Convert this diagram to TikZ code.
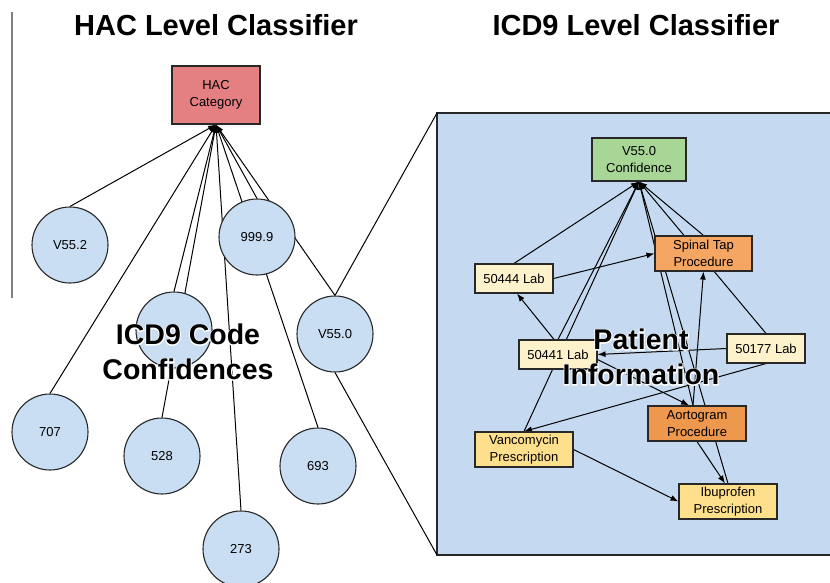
\documentclass[tikz,border=0pt]{standalone}
\usepackage{fontspec}
\setmainfont{Liberation Sans}
\newfontfamily\glowfont[BoldFeatures={FakeBold=7}]{Liberation Sans}
\usetikzlibrary{arrows.meta}
\pgfdeclarelayer{back}
\pgfdeclarelayer{edges}
\pgfdeclarelayer{glow}
\pgfdeclarelayer{front}
\pgfsetlayers{back,edges,main,glow,front}
\definecolor{linec}{RGB}{40,40,40}
\definecolor{circfill}{RGB}{201,222,242}
\definecolor{panelfill}{RGB}{197,218,240}
\definecolor{hacpink}{RGB}{229,128,130}
\definecolor{confgreen}{RGB}{168,214,150}
\definecolor{spinalor}{RGB}{244,166,98}
\definecolor{aortoor}{RGB}{238,152,78}
\definecolor{labpale}{RGB}{254,242,204}
\definecolor{rxyellow}{RGB}{254,224,140}
\definecolor{sidegray}{RGB}{128,128,128}
\begin{document}
\begin{tikzpicture}[x=1pt,y=-1pt,
  circ/.style={circle, draw=linec, line width=1.1pt, fill=circfill, minimum size=76pt, inner sep=0pt, font=\fontsize{13}{15}\selectfont},
  box/.style={rectangle, draw=linec, line width=1.1pt, align=center, inner sep=0pt, font=\fontsize{13}{17}\selectfont},
  conn/.style={draw=black, line width=1pt},
  arr/.style={conn, -{Latex[length=8pt,width=6pt]}},
  bigtxt/.style={font=\fontsize{28.5}{35}\selectfont\bfseries, align=center},
  glowtxt/.style={font=\glowfont\fontsize{28.5}{35}\selectfont\bfseries, align=center, text=white},
  title/.style={font=\fontsize{29}{32}\selectfont\bfseries}]
\useasboundingbox (0,0) rectangle (830,583);

% titles
\node[title] (t1) at (216,25) {HAC Level Classifier};
\node[title] (t2) at (636,25) {ICD9 Level Classifier};
\draw[sidegray, line width=1.5pt] (12,12) -- (12,298);

% left tree
\node[box, fill=hacpink, minimum width=88pt, minimum height=58pt] (hac) at (216,95) {HAC\\Category};
\node[circ] (v552) at (70,245) {V55.2};
\node[circ] (c999) at (257,237) {999.9};
\node[circ] (hid) at (174,330) {};
\node[circ] (v550) at (335,334) {V55.0};
\node[circ] (c707) at (50,432) {707};
\node[circ] (c528) at (162,456) {528};
\node[circ] (c693) at (318,466) {693};
\node[circ] (c273) at (241,549) {273};

\begin{pgfonlayer}{edges}
\foreach \n in {v552,c999,hid,v550,c707,c528,c693,c273}
  \draw[arr] (\n.north) -- (hac.south);
\end{pgfonlayer}

% panel
\coordinate (pTL) at (437,113);
\coordinate (pBL) at (437,555);
\coordinate (pTR) at (830,113);
\coordinate (pBR) at (830,555);
\begin{pgfonlayer}{back}
\fill[panelfill] (pTL) rectangle (pBR);
\draw[linec, line width=1.1pt] (pTR) -- (pTL) -- (pBL) -- (pBR);
\end{pgfonlayer}
\begin{pgfonlayer}{edges}
\draw[conn] (v550.north) -- (pTL);
\draw[conn] (v550.south) -- (pBL);
\end{pgfonlayer}

% right graph
\node[box, fill=confgreen, minimum width=94pt, minimum height=43pt] (conf) at (639,159.5) {V55.0\\Confidence};
\node[box, fill=spinalor, minimum width=97pt, minimum height=35pt] (spinal) at (703.5,253.5) {Spinal Tap\\Procedure};
\node[box, fill=labpale, minimum width=78pt, minimum height=29pt] (l50444) at (514,278.5) {50444 Lab};
\node[box, fill=labpale, minimum width=78pt, minimum height=29pt] (l50441) at (558,354.5) {50441 Lab};
\node[box, fill=labpale, minimum width=78pt, minimum height=29pt] (l50177) at (766,348.5) {50177 Lab};
\node[box, fill=aortoor, minimum width=98pt, minimum height=35pt] (aorto) at (697,423.5) {Aortogram\\Procedure};
\node[box, fill=rxyellow, minimum width=98pt, minimum height=35pt] (vanc) at (524,449.5) {Vancomycin\\Prescription};
\node[box, fill=rxyellow, minimum width=98pt, minimum height=35pt] (ibu) at (728,501.5) {Ibuprofen\\Prescription};

\begin{pgfonlayer}{edges}
\draw[arr] (l50444.north) -- (conf.south);
\draw[arr] (l50441.north) -- (conf.south);
\draw[arr] (vanc.north) -- (conf.south);
\draw[arr] (spinal.north) -- (conf.south);
\draw[arr] (l50177.north) -- (conf.south);
\draw[arr] ([xshift=-4pt]aorto.north) -- (conf.south);
\draw[arr] (ibu.north) -- (conf.south);
\draw[arr] ([xshift=-4pt]l50441.north) -- ([xshift=3pt]l50444.south);
\draw[arr] (l50444.east) -- (spinal.west);
\draw[arr] ([xshift=-4pt]aorto.north) -- (spinal.south);
\draw[arr] (l50177.west) -- (l50441.east);
\draw[arr] ([yshift=-5pt]l50441.east) -- ([xshift=-8pt]aorto.north);
\draw[arr] (l50177.south) -- (vanc.north);
\draw[arr] (aorto.south) -- ([xshift=-3pt]ibu.north);
\draw[arr] (vanc.east) -- (ibu.west);
\end{pgfonlayer}

% overlay texts with white glow
\begin{pgfonlayer}{glow}
\node[glowtxt] (icdglow) at (188,352) {ICD9 Code\\Confidences};
\node[glowtxt] (patglow) at (641,357) {Patient\\Information};
\end{pgfonlayer}
\begin{pgfonlayer}{front}
\node[bigtxt] (icdtxt) at (188,352) {ICD9 Code\\Confidences};
\node[bigtxt] (pattxt) at (641,357) {Patient\\Information};
\end{pgfonlayer}
\end{tikzpicture}
\end{document}
